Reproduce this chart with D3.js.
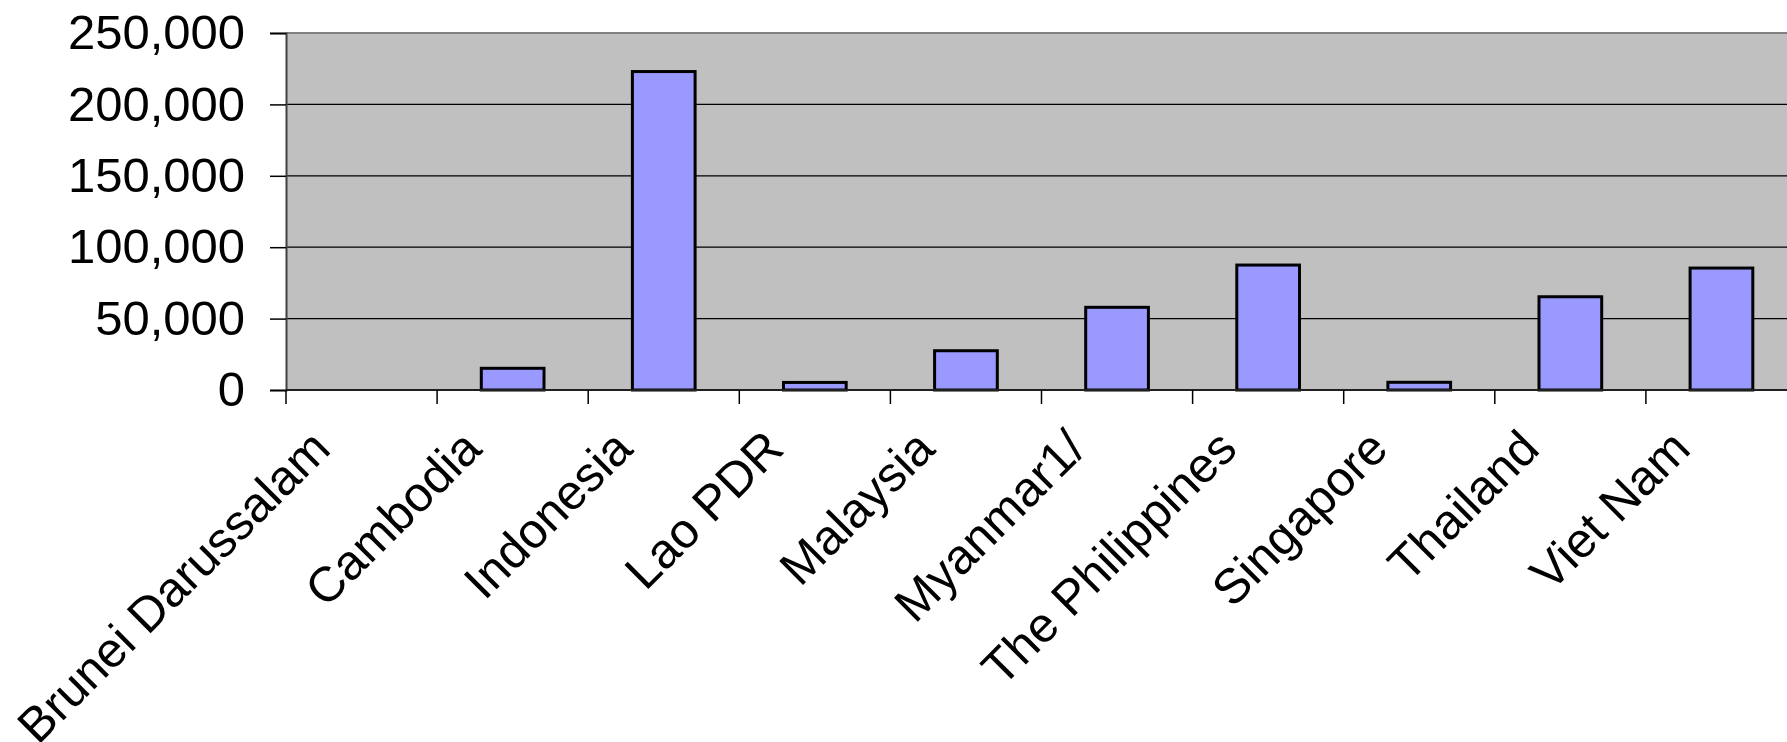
<!DOCTYPE html>
<html>
<head>
<meta charset="utf-8">
<script src="https://cdn.jsdelivr.net/npm/d3@7"></script>
<style>
  html, body { margin: 0; padding: 0; background: #fff; }
  svg { display: block; }
  text { font-family: "Liberation Sans", Arial, sans-serif; fill: #000; }
</style>
</head>
<body>
<svg id="chart" width="1787" height="742"></svg>
<script>
const categories = ["Brunei Darussalam", "Cambodia", "Indonesia", "Lao PDR", "Malaysia",
                    "Myanmar1/", "The Philippines", "Singapore", "Thailand", "Viet Nam"];
const values = [0, 15200, 223000, 5300, 27500, 57900, 87500, 5400, 65300, 85400];
const yTicks = [0, 50000, 100000, 150000, 200000, 250000];

(function () {
const svg = d3.select("#chart");
const pLeft = 286, pRight = 1797, pTop = 33, pBottom = 390;

const x = d3.scaleBand().domain(categories).range([pLeft, pRight])
  .paddingInner(0.585).paddingOuter(0.2925);
const y = d3.scaleLinear().domain([0, 250000]).range([pBottom, pTop]);
const step = x.step();

svg.append("rect").attr("x", pLeft).attr("y", pTop)
  .attr("width", pRight - pLeft).attr("height", pBottom - pTop)
  .attr("fill", "#c0c0c0");

svg.append("g").selectAll("line").data(yTicks.filter(d => d > 0 && d < 250000)).join("line")
  .attr("x1", pLeft).attr("x2", pRight)
  .attr("y1", d => y(d)).attr("y2", d => y(d))
  .attr("stroke", "#000").attr("stroke-width", 1.2);

svg.append("line").attr("x1", pLeft).attr("x2", pRight).attr("y1", pTop).attr("y2", pTop)
  .attr("stroke", "#808080").attr("stroke-width", 2);

svg.append("g").selectAll("rect").data(categories.map((c, i) => ({c, v: values[i]})).filter(d => d.v > 0))
  .join("rect")
  .attr("x", d => x(d.c))
  .attr("width", x.bandwidth())
  .attr("y", d => y(d.v))
  .attr("height", d => y(0) - y(d.v))
  .attr("fill", "#9999ff")
  .attr("stroke", "#000").attr("stroke-width", 3);

const yAxis = d3.axisLeft(y).tickValues(yTicks).tickSize(16).tickPadding(25)
  .tickFormat(d3.format(","));
const gy = svg.append("g").attr("transform", `translate(${pLeft},0)`).call(yAxis);
gy.select(".domain").attr("stroke", "#404040").attr("stroke-width", 2);
gy.selectAll(".tick line").attr("stroke", "#000").attr("stroke-width", 1.5);
gy.selectAll(".tick text")
  .attr("font-size", 49)
  .attr("font-family", "'Liberation Sans', Arial, sans-serif").attr("fill", "#000");

svg.append("line").attr("x1", pLeft).attr("x2", pRight).attr("y1", pBottom).attr("y2", pBottom)
  .attr("stroke", "#202020").attr("stroke-width", 2);

svg.append("g").selectAll("line").data(categories).join("line")
  .attr("x1", d => x(d) + x.bandwidth() / 2 - step / 2)
  .attr("x2", d => x(d) + x.bandwidth() / 2 - step / 2)
  .attr("y1", pBottom).attr("y2", pBottom + 14)
  .attr("stroke", "#000").attr("stroke-width", 1.5);

svg.append("g").selectAll("text").data(categories).join("text")
  .attr("transform", d => `translate(${x(d) + x.bandwidth() / 2 - 41},${pBottom + 49}) rotate(-45)`)
  .attr("text-anchor", "end")
  .attr("dy", "0.35em")
  .attr("font-size", 49)
  .text(d => d);
})();
</script>
</body>
</html>
